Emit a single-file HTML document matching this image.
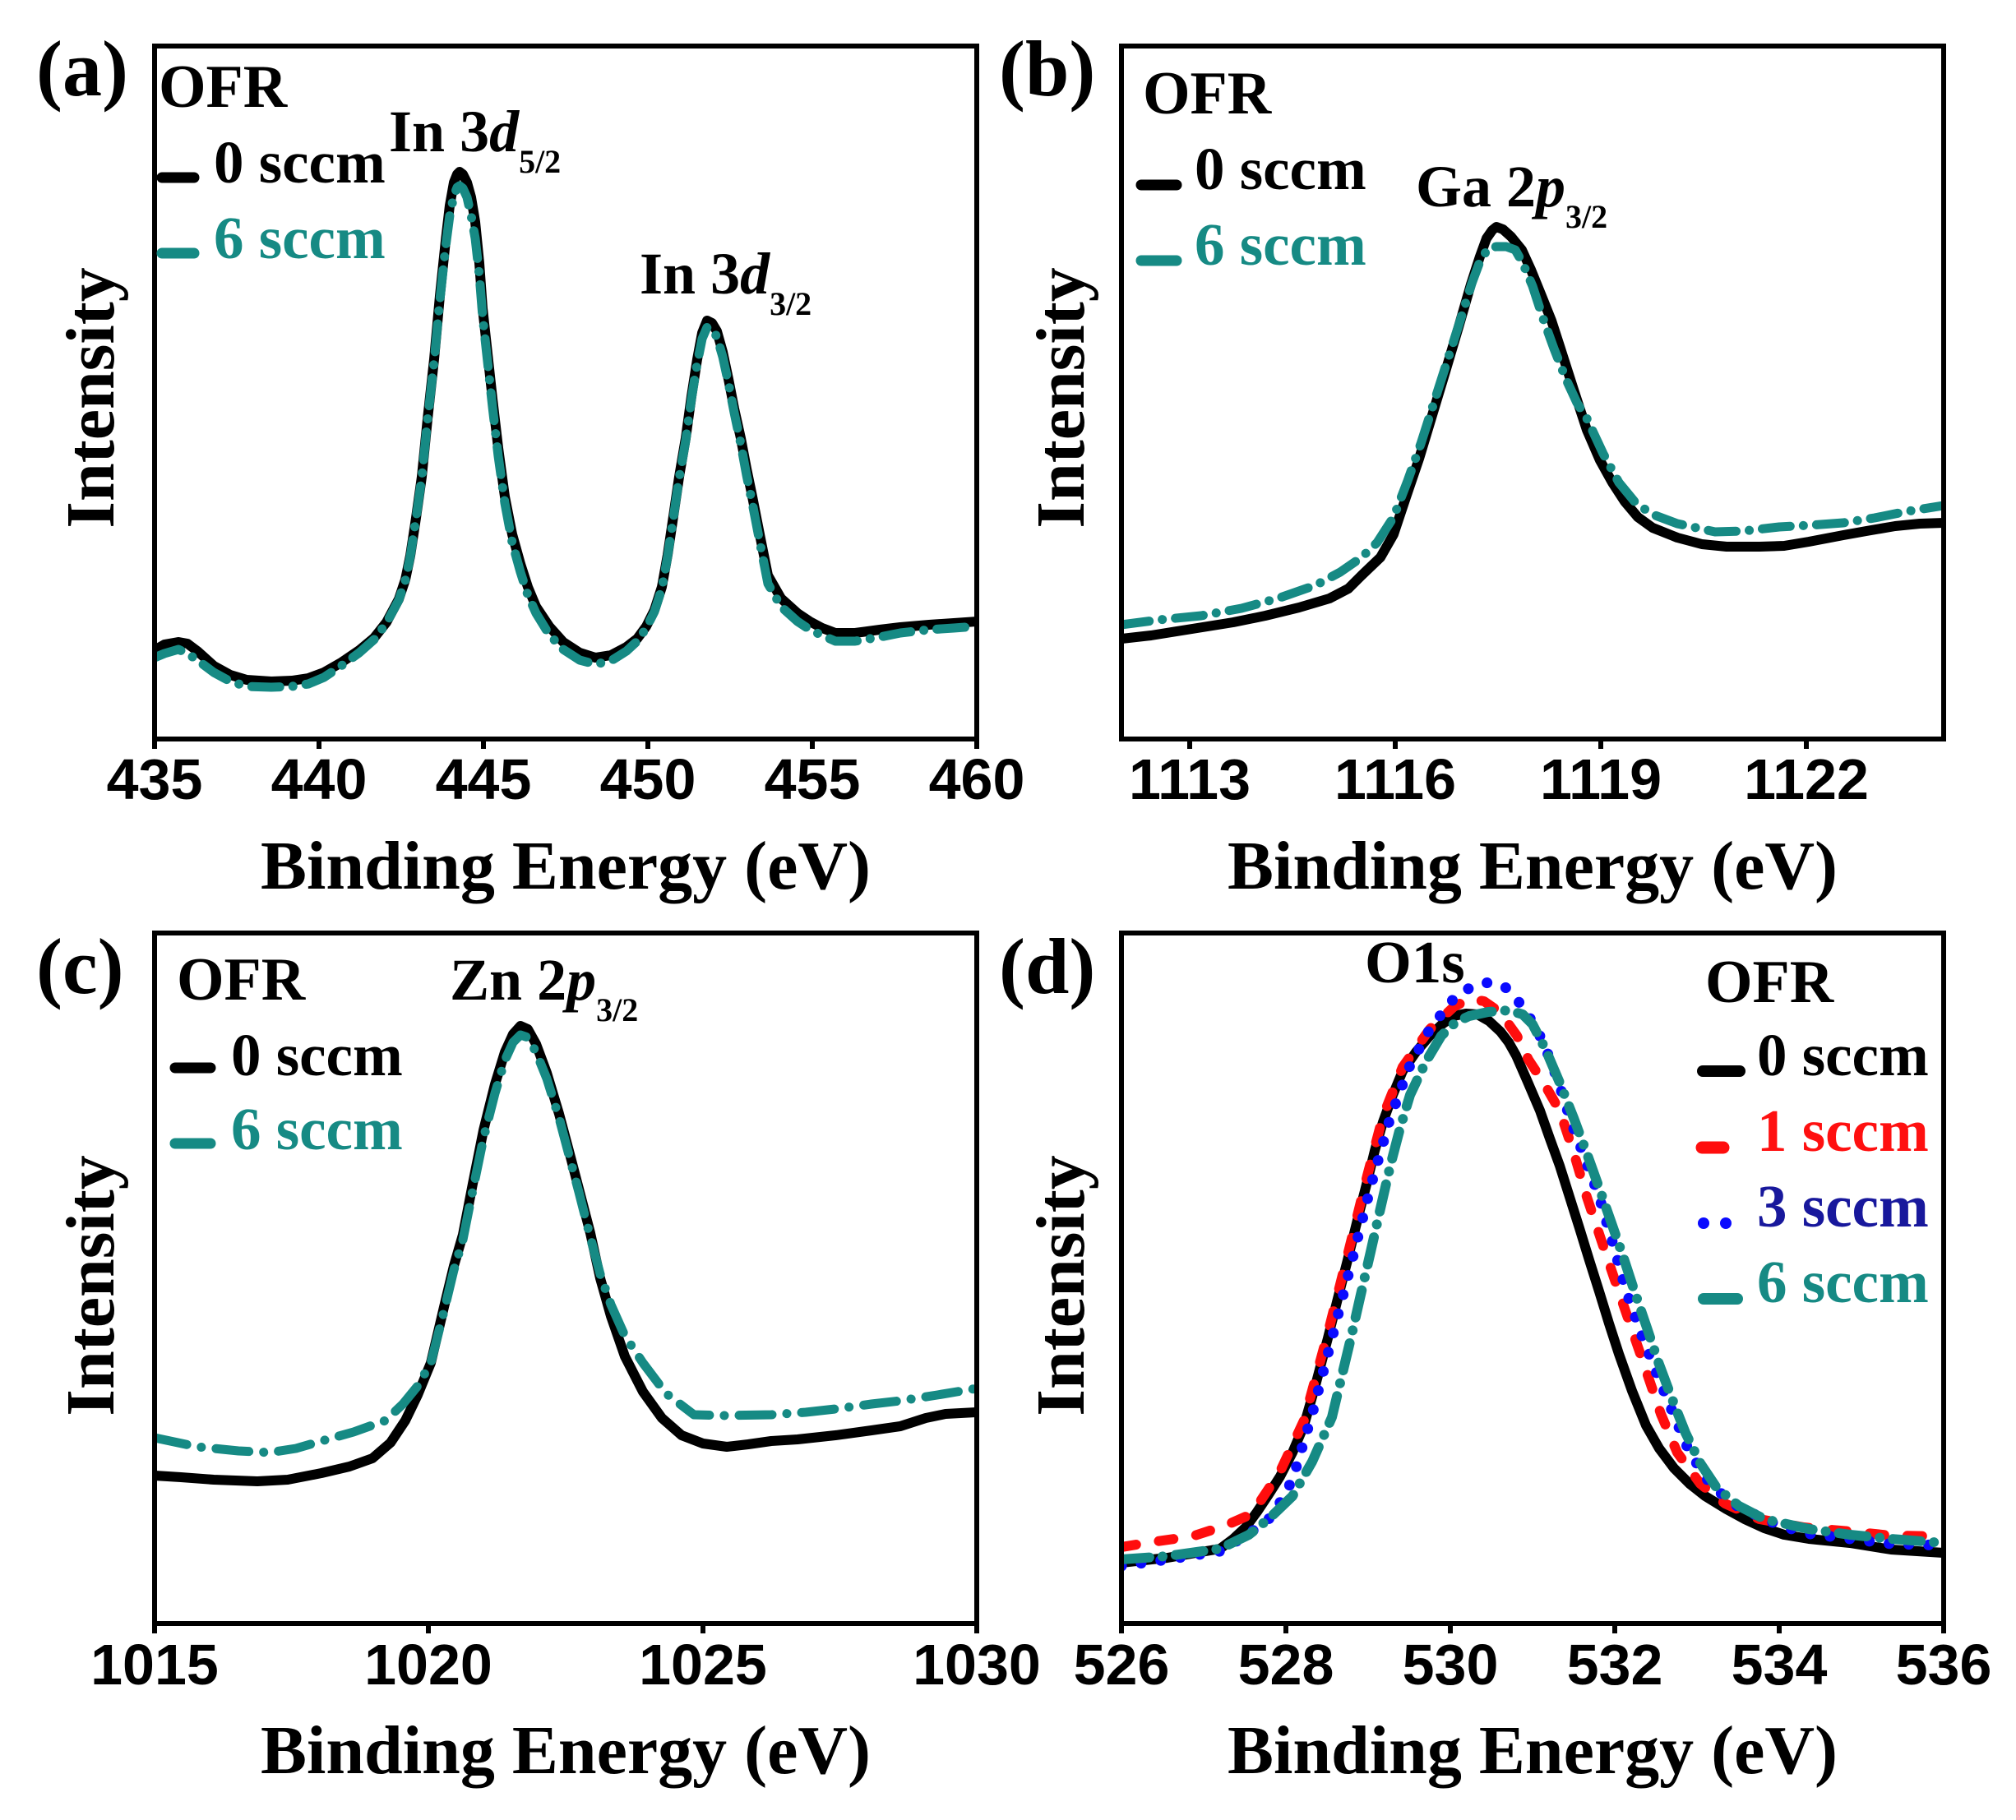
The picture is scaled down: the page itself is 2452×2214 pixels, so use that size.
<!DOCTYPE html>
<html><head><meta charset="utf-8"><style>
html,body{margin:0;padding:0;background:#fff;}
svg{display:block;}
.t{font-family:"Liberation Serif","Times New Roman",serif;font-weight:bold;}
.n{font-family:"Liberation Sans",Arial,sans-serif;font-weight:bold;font-size:70px;}
</style></head><body>
<svg width="2452" height="2214" viewBox="0 0 2452 2214" xmlns="http://www.w3.org/2000/svg">
<defs>
<clipPath id="ca"><rect x="191" y="59" width="994" height="837"/></clipPath>
<clipPath id="cb"><rect x="1367" y="59" width="994" height="837"/></clipPath>
<clipPath id="cc"><rect x="191" y="1138" width="994" height="834"/></clipPath>
<clipPath id="cd"><rect x="1367" y="1138" width="994" height="834"/></clipPath>
</defs>
<rect width="2452" height="2214" fill="#fff"/>

<!-- ===== Panel (a) ===== -->
<g clip-path="url(#ca)" fill="none" stroke-linejoin="round" stroke-linecap="round">
<polyline stroke="#000" stroke-width="12" points="188,791 200,784 217,781 228,783 240,792 260,810 280,821 300,827 330,829 355,828 375,825 394,818 415,806 437,791 455,776 470,757 485,729 493,705 499,676 506,630 513,580 520,510 528,437 535,360 542,293 547,250 552,222 556,212 559,209 563,212 568,222 573,240 578,270 583,320 587,375 593,430 599,485 606,545 614,604 623,650 633,686 642,714 652,738 668,762 685,781 705,794 724,800 743,797 762,787 775,777 786,762 796,742 805,714 812,675 819,628 826,580 834,533 841,482 848,437 854,405 860,390 866,393 872,403 879,428 886,461 893,497 901,533 908,570 915,604 925,655 934,700 950,728 970,746 985,756 1000,764 1016,770 1040,770 1070,766 1095,763 1130,760 1160,758 1188,756"/>
<polyline stroke="#168a84" stroke-width="11" stroke-dasharray="34 16 0.1 16" points="188,800 200,795 217,790 228,795 240,803 260,818 280,829 300,835 330,836 355,835 375,832 394,824 415,810 437,794 455,778 470,758 485,730 493,706 499,677 506,631 513,581 520,511 528,440 535,365 542,300 547,262 552,238 556,228 559,226 563,229 568,240 573,262 578,290 583,335 587,385 593,440 599,495 606,555 614,612 623,660 633,696 642,724 652,746 668,772 685,790 705,803 724,808 743,804 762,792 775,780 786,764 796,744 805,716 812,677 819,630 826,582 834,536 841,485 848,442 854,412 860,398 866,400 872,410 879,434 886,466 893,502 901,540 908,578 915,612 925,664 934,710 950,738 970,756 985,766 1000,773 1016,780 1040,780 1070,775 1095,770 1130,766 1160,764 1188,762"/>
</g>
<rect x="188" y="56" width="1000" height="843" fill="none" stroke="#000" stroke-width="6"/>
<g stroke="#000" stroke-width="6">
<line x1="188" y1="899" x2="188" y2="911"/><line x1="388" y1="899" x2="388" y2="911"/><line x1="588" y1="899" x2="588" y2="911"/><line x1="788" y1="899" x2="788" y2="911"/><line x1="988" y1="899" x2="988" y2="911"/><line x1="1188" y1="899" x2="1188" y2="911"/>
</g>
<g class="n" text-anchor="middle">
<text x="188" y="972">435</text><text x="388" y="972">440</text><text x="588" y="972">445</text><text x="788" y="972">450</text><text x="988" y="972">455</text><text x="1188" y="972">460</text>
</g>
<text class="t" x="688" y="1081" font-size="84" text-anchor="middle">Binding Energy (eV)</text>
<text class="t" font-size="84" text-anchor="middle" transform="translate(138,484) rotate(-90)">Intensity</text>
<text class="t" x="44" y="116" font-size="96">(a)</text>
<text class="t" x="193" y="130" font-size="74">OFR</text>
<line x1="197" y1="216" x2="236" y2="216" stroke="#000" stroke-width="13" stroke-linecap="round"/>
<text class="t" x="260" y="222" font-size="73">0 sccm</text>
<line x1="197" y1="308" x2="236" y2="308" stroke="#168a84" stroke-width="13" stroke-linecap="round"/>
<text class="t" x="260" y="314" font-size="73" fill="#168a84">6 sccm</text>
<text class="t" x="473" y="184" font-size="72">In 3<tspan font-style="italic">d</tspan><tspan font-size="40" dy="26">5/2</tspan></text>
<text class="t" x="778" y="357" font-size="72">In 3<tspan font-style="italic">d</tspan><tspan font-size="40" dy="26">3/2</tspan></text>

<!-- ===== Panel (b) ===== -->
<g clip-path="url(#cb)" fill="none" stroke-linejoin="round" stroke-linecap="round">
<polyline stroke="#000" stroke-width="12" points="1364,777 1400,773 1450,765 1500,757 1539,749 1580,739 1617,728 1640,716 1656,700 1679,678 1695,650 1710,605 1726,558 1742,505 1758,452 1774,398 1789,346 1800,312 1808,290 1815,280 1820,276 1828,279 1838,288 1851,304 1862,328 1875,360 1887,390 1898,424 1914,474 1930,523 1946,560 1961,587 1976,610 1992,629 2010,642 2040,654 2070,662 2100,665 2140,665 2170,664 2200,659 2242,651 2270,646 2305,640 2335,637 2364,636"/>
<polyline stroke="#168a84" stroke-width="11" stroke-dasharray="34 16 0.1 16" points="1364,760 1410,754 1461,749 1510,740 1554,728 1600,712 1630,696 1656,678 1675,660 1695,629 1712,585 1728,540 1744,490 1760,440 1776,390 1790,345 1800,318 1810,302 1820,300 1832,300 1843,304 1852,320 1864,348 1877,388 1890,424 1905,462 1918,490 1930,509 1950,552 1969,587 1988,610 2008,625 2040,637 2086,647 2120,646 2164,641 2200,639 2242,636 2280,630 2320,622 2364,615"/>
</g>
<rect x="1364" y="56" width="1000" height="843" fill="none" stroke="#000" stroke-width="6"/>
<g stroke="#000" stroke-width="6">
<line x1="1447" y1="899" x2="1447" y2="911"/><line x1="1697" y1="899" x2="1697" y2="911"/><line x1="1947" y1="899" x2="1947" y2="911"/><line x1="2197" y1="899" x2="2197" y2="911"/>
</g>
<g class="n" text-anchor="middle">
<text x="1447" y="972">1113</text><text x="1697" y="972">1116</text><text x="1947" y="972">1119</text><text x="2197" y="972">1122</text>
</g>
<text class="t" x="1864" y="1081" font-size="84" text-anchor="middle">Binding Energy (eV)</text>
<text class="t" font-size="84" text-anchor="middle" transform="translate(1318,484) rotate(-90)">Intensity</text>
<text class="t" x="1215" y="116" font-size="96">(b)</text>
<text class="t" x="1390" y="138" font-size="74">OFR</text>
<line x1="1388" y1="225" x2="1431" y2="225" stroke="#000" stroke-width="13" stroke-linecap="round"/>
<text class="t" x="1453" y="230" font-size="73">0 sccm</text>
<line x1="1388" y1="317" x2="1431" y2="317" stroke="#168a84" stroke-width="13" stroke-linecap="round"/>
<text class="t" x="1453" y="322" font-size="73" fill="#168a84">6 sccm</text>
<text class="t" x="1722" y="251" font-size="72">Ga 2<tspan font-style="italic">p</tspan><tspan font-size="40" dy="26">3/2</tspan></text>

<!-- ===== Panel (c) ===== -->
<g clip-path="url(#cc)" fill="none" stroke-linejoin="round" stroke-linecap="round">
<polyline stroke="#000" stroke-width="12" points="188,1795 220,1797 260,1800 313,1802 350,1800 391,1792 425,1784 453,1774 475,1755 493,1728 508,1697 524,1658 540,1590 552,1540 563,1502 575,1440 588,1375 602,1319 614,1280 624,1258 633,1248 642,1252 652,1270 665,1305 680,1355 692,1400 704,1446 718,1500 730,1555 743,1601 760,1650 782,1693 805,1725 829,1746 855,1756 884,1760 910,1757 938,1753 970,1751 1016,1746 1060,1740 1095,1735 1126,1725 1150,1720 1188,1718"/>
<polyline stroke="#168a84" stroke-width="11" stroke-dasharray="40 18 0.1 18" points="188,1749 240,1760 290,1765 328,1767 360,1762 391,1753 430,1742 469,1728 490,1708 508,1686 524,1658 540,1595 552,1545 563,1508 575,1448 588,1385 602,1330 614,1290 624,1268 633,1259 642,1262 652,1280 665,1312 680,1360 692,1405 704,1450 718,1505 730,1550 743,1587 760,1625 782,1658 810,1695 844,1721 880,1722 938,1721 980,1718 1016,1714 1060,1708 1095,1704 1140,1697 1188,1689"/>
</g>
<rect x="188" y="1135" width="1000" height="840" fill="none" stroke="#000" stroke-width="6"/>
<g stroke="#000" stroke-width="6">
<line x1="188" y1="1975" x2="188" y2="1987"/><line x1="521" y1="1975" x2="521" y2="1987"/><line x1="855" y1="1975" x2="855" y2="1987"/><line x1="1188" y1="1975" x2="1188" y2="1987"/>
</g>
<g class="n" text-anchor="middle">
<text x="188" y="2049">1015</text><text x="521" y="2049">1020</text><text x="855" y="2049">1025</text><text x="1188" y="2049">1030</text>
</g>
<text class="t" x="688" y="2157" font-size="84" text-anchor="middle">Binding Energy (eV)</text>
<text class="t" font-size="84" text-anchor="middle" transform="translate(138,1564) rotate(-90)">Intensity</text>
<text class="t" x="44" y="1208" font-size="96">(c)</text>
<text class="t" x="215" y="1216" font-size="74">OFR</text>
<line x1="213" y1="1299" x2="256" y2="1299" stroke="#000" stroke-width="13" stroke-linecap="round"/>
<text class="t" x="281" y="1308" font-size="73">0 sccm</text>
<line x1="213" y1="1391" x2="256" y2="1391" stroke="#168a84" stroke-width="13" stroke-linecap="round"/>
<text class="t" x="281" y="1398" font-size="73" fill="#168a84">6 sccm</text>
<text class="t" x="547" y="1216" font-size="72">Zn 2<tspan font-style="italic">p</tspan><tspan font-size="40" dy="26">3/2</tspan></text>

<!-- ===== Panel (d) ===== -->
<g clip-path="url(#cd)" fill="none" stroke-linejoin="round" stroke-linecap="round">
<polyline stroke="#000" stroke-width="12" points="1364,1901 1420,1895 1484,1884 1500,1872 1515,1858 1529,1839 1543,1818 1557,1796 1572,1767 1586,1734 1600,1685 1615,1628 1627,1580 1639,1533 1651,1484 1663,1437 1672,1400 1682,1365 1694,1332 1706,1303 1722,1280 1739,1260 1754,1246 1768,1236 1783,1233 1797,1234 1811,1242 1825,1255 1835,1268 1844,1284 1858,1316 1873,1351 1885,1385 1897,1418 1909,1456 1921,1494 1933,1533 1945,1571 1957,1610 1969,1647 1985,1692 2002,1734 2018,1762 2036,1786 2055,1805 2074,1820 2100,1836 2122,1848 2146,1859 2170,1867 2200,1872 2250,1877 2300,1885 2364,1889"/>
<polyline stroke="#ff0d0d" stroke-width="12" stroke-dasharray="18 28" points="1364,1882 1400,1876 1450,1869 1490,1856 1515,1845 1529,1832 1557,1790 1586,1728 1615,1622 1639,1527 1663,1430 1682,1358 1706,1298 1739,1252 1768,1225 1787,1215 1805,1218 1825,1232 1845,1260 1859,1289 1878,1318 1897,1351 1914,1402 1930,1456 1947,1507 1964,1557 1983,1612 2002,1667 2020,1720 2040,1767 2068,1805 2098,1829 2140,1848 2194,1858 2250,1863 2300,1868 2364,1869"/>
<polyline stroke="#0a0aff" stroke-width="13" stroke-dasharray="0.1 24" points="1364,1905 1420,1897 1484,1887 1520,1865 1548,1844 1572,1800 1596,1720 1620,1628 1644,1535 1668,1440 1690,1363 1713,1300 1740,1250 1768,1215 1790,1200 1811,1195 1830,1200 1850,1222 1865,1245 1878,1270 1895,1315 1911,1365 1928,1410 1945,1456 1962,1514 1978,1571 1997,1625 2017,1676 2036,1722 2055,1767 2080,1805 2107,1829 2150,1850 2194,1865 2250,1872 2300,1878 2364,1880"/>
<polyline stroke="#168a84" stroke-width="12" stroke-dasharray="34 16 0.1 16" points="1364,1897 1420,1893 1484,1884 1519,1867 1545,1846 1572,1820 1596,1778 1620,1724 1643,1628 1655,1575 1667,1523 1679,1470 1691,1418 1703,1372 1715,1332 1734,1292 1753,1260 1770,1244 1787,1236 1810,1231 1835,1229 1852,1234 1864,1246 1880,1277 1897,1317 1914,1360 1930,1403 1945,1445 1959,1485 1974,1528 1988,1571 2003,1615 2017,1657 2033,1700 2050,1743 2068,1780 2088,1810 2115,1832 2146,1848 2200,1860 2250,1867 2300,1872 2364,1877"/>
</g>
<rect x="1364" y="1135" width="1000" height="840" fill="none" stroke="#000" stroke-width="6"/>
<g stroke="#000" stroke-width="6">
<line x1="1364" y1="1975" x2="1364" y2="1987"/><line x1="1564" y1="1975" x2="1564" y2="1987"/><line x1="1764" y1="1975" x2="1764" y2="1987"/><line x1="1964" y1="1975" x2="1964" y2="1987"/><line x1="2164" y1="1975" x2="2164" y2="1987"/><line x1="2364" y1="1975" x2="2364" y2="1987"/>
</g>
<g class="n" text-anchor="middle">
<text x="1364" y="2049">526</text><text x="1564" y="2049">528</text><text x="1764" y="2049">530</text><text x="1964" y="2049">532</text><text x="2164" y="2049">534</text><text x="2364" y="2049">536</text>
</g>
<text class="t" x="1864" y="2157" font-size="84" text-anchor="middle">Binding Energy (eV)</text>
<text class="t" font-size="84" text-anchor="middle" transform="translate(1318,1564) rotate(-90)">Intensity</text>
<text class="t" x="1215" y="1208" font-size="96">(d)</text>
<text class="t" x="1660" y="1195" font-size="73">O1s</text>
<text class="t" x="2074" y="1219" font-size="74">OFR</text>
<line x1="2071" y1="1303" x2="2116" y2="1303" stroke="#000" stroke-width="14" stroke-linecap="round"/>
<text class="t" x="2137" y="1308" font-size="73">0 sccm</text>
<line x1="2070" y1="1396" x2="2096" y2="1396" stroke="#ff0d0d" stroke-width="15" stroke-linecap="round"/>
<text class="t" x="2137" y="1400" font-size="73" fill="#ff1010"><tspan>1 sccm</tspan></text>
<circle cx="2072" cy="1488" r="7" fill="#0a0aff"/><circle cx="2099" cy="1488" r="7" fill="#0a0aff"/>
<text class="t" x="2137" y="1492" font-size="73" fill="#18189c">3 sccm</text>
<line x1="2072" y1="1580" x2="2113" y2="1580" stroke="#168a84" stroke-width="14" stroke-linecap="round"/>
<text class="t" x="2137" y="1584" font-size="73" fill="#168a84">6 sccm</text>
</svg>
</body></html>
